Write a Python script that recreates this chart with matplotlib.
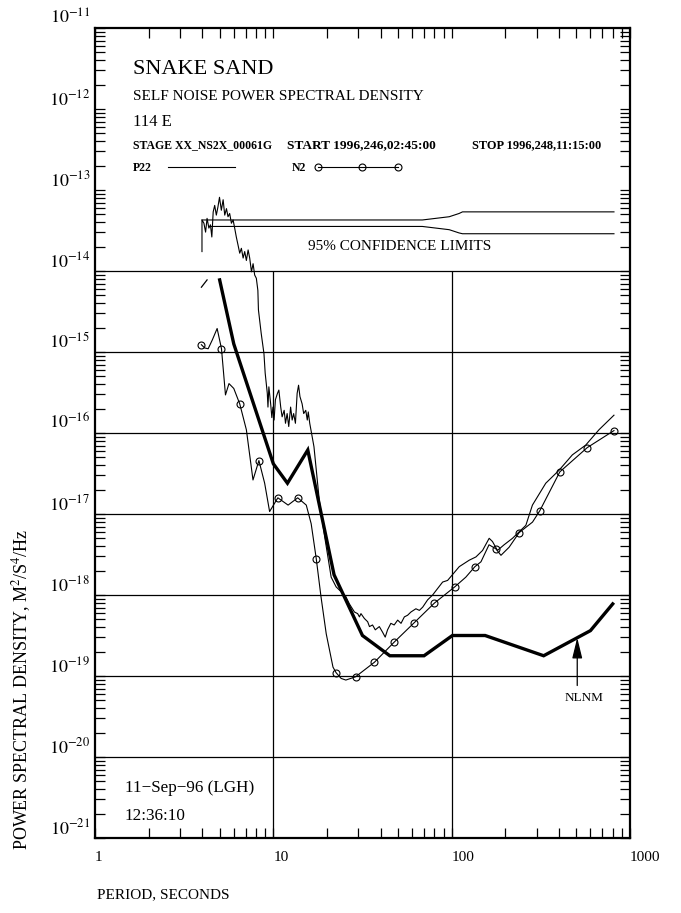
import numpy as np
import matplotlib
matplotlib.use("Agg")
import matplotlib.pyplot as plt
from matplotlib.lines import Line2D
from matplotlib.ticker import LogLocator, NullFormatter

plt.rcParams['font.family'] = ['Liberation Serif', 'DejaVu Serif']
plt.rcParams['mathtext.fontset'] = 'stix'

# ---- data: period (s) and acceleration PSD in dB rel 1 (m/s^2)^2/Hz ----
p22_period = [3.98, 3.98, 4.08, 4.17, 4.25, 4.35, 4.44, 4.52, 4.60, 4.69,
              4.79, 4.89, 4.99, 5.11, 5.23, 5.34, 5.46, 5.57, 5.69, 5.82,
              5.95, 6.07, 6.20, 6.34, 6.48, 6.62, 6.77, 6.91, 7.06, 7.22,
              7.37, 7.54, 7.70, 7.86, 8.03, 8.19, 8.25, 8.55, 8.86, 9.00,
              9.25, 9.33, 9.44, 9.66, 9.81, 9.95, 10.1, 10.27, 10.55, 10.74,
              11.0, 11.2, 11.5, 11.7, 11.95, 12.2, 12.5, 12.75, 13.0, 13.3,
              13.6, 13.85, 14.1, 14.5, 14.8, 15.2, 15.5, 15.7, 16.0, 16.4,
              16.9, 17.2, 18.1, 19.4, 21.1, 22.5, 24.0, 25.5, 26.7, 28.5,
              29.7, 30.4, 31.0, 32.4, 33.8, 34.6, 36.0, 37.3, 39.3, 41.0,
              42.4, 43.7, 45.6, 47.6, 49.8, 52.0, 54.3, 56.6, 59.1, 63.0,
              65.9, 68.8, 73.3, 78.2, 83.4, 89.0, 94.9, 110.3, 125.5, 136.8,
              149.0, 162.3, 169.4, 180.6, 196.8, 219.3, 239.0, 260.6, 283.7, 337.0,
              400.0, 475.0, 564.0, 670.0, 813.0]
p22_db = [-137.6, -133.7, -134.1, -135.2, -133.5, -134.7, -134.3, -135.8, -132.7, -131.9,
          -133.1, -132.1, -130.9, -132.5, -131.2, -133.1, -132.3, -133.3, -132.9, -134.1,
          -133.7, -134.7, -135.8, -136.8, -137.8, -137.2, -138.4, -137.6, -138.7, -137.4,
          -138.4, -140.1, -139.1, -140.5, -140.9, -142.4, -144.8, -147.7, -150.2, -152.6,
          -155.1, -156.8, -154.3, -156.4, -158.1, -156.8, -158.4, -155.9, -155.1, -154.7,
          -156.8, -158.0, -157.2, -158.8, -157.6, -159.2, -156.8, -158.4, -157.6, -158.8,
          -155.1, -154.1, -155.5, -156.4, -157.6, -157.2, -158.4, -157.4, -158.8, -160.1,
          -161.7, -163.4, -168.3, -172.8, -177.8, -179.0, -179.6, -180.2, -181.1, -182.1,
          -182.3, -182.7, -182.3, -182.9, -183.3, -183.9, -183.7, -184.3, -183.9, -184.6,
          -185.2, -184.3, -183.5, -183.7, -183.1, -183.5, -182.7, -182.5, -182.1, -181.7,
          -181.9, -181.5, -180.6, -180.0, -179.2, -178.4, -178.2, -176.5, -175.7, -175.3,
          -174.5, -173.0, -173.4, -174.5, -173.8, -173.0, -172.2, -171.4, -168.9, -166.2,
          -164.6, -162.7, -161.5, -159.6, -157.8]

n2_period = [3.95, 4.12, 4.31, 4.55, 4.84, 5.12, 5.39, 5.64, 6.0, 6.48,
             7.06, 7.69, 8.30, 8.94, 9.53, 10.6, 12.1, 13.7, 15.3, 16.3,
             17.4, 18.5, 19.8, 21.6, 22.5, 24.0, 25.5, 28.9, 36.9, 47.7,
             61.8, 80.0, 104.0, 120.0, 135.0, 146.0, 162.0, 177.0, 189.0, 210.0,
             239.0, 284.0, 312.0, 404.0, 576.0, 813.0]
n2_db = [-149.1, -149.5, -149.6, -148.5, -147.1, -149.6, -155.3, -153.9, -154.5, -156.4,
         -159.6, -165.8, -163.4, -166.2, -169.7, -168.0, -168.9, -168.0, -168.9, -171.2,
         -175.5, -180.2, -184.8, -188.9, -189.6, -190.3, -190.5, -190.1, -188.3, -185.8,
         -183.4, -181.0, -179.0, -177.8, -176.5, -175.9, -173.8, -174.3, -175.1, -174.1,
         -172.3, -171.0, -169.6, -164.8, -161.8, -159.7]
# samples of N2 that carry a symbol
n2_marks = [0, 5, 9, 12, 15, 17, 20, 24, 27, 28, 29, 30, 31, 32, 34, 37, 40, 42, 43, 44, 45]

# Peterson New Low Noise Model breakpoints
nlnm_period = [5.0, 6.0, 10.0, 12.0, 15.6, 21.9, 31.6, 45.0, 70.0, 101.0, 154.0, 328.0, 600.0, 800.0]
nlnm_db = [-141.1, -149.0, -163.8, -166.2, -162.1, -177.5, -185.0, -187.5, -187.5,
           -185.0, -185.0, -187.5, -184.4, -181.1]
nlnm_stub_period = [3.95, 4.25]
nlnm_stub_db = [-142.0, -141.1]

# 95% confidence limit curves
conf_up_period = [3.98, 68.5, 96.9, 110.0, 115.0, 813.0]
conf_up_db = [-133.7, -133.7, -133.3, -132.9, -132.7, -132.7]
conf_lo_period = [4.45, 68.5, 96.9, 110.0, 115.0, 813.0]
conf_lo_db = [-134.5, -134.5, -134.9, -135.3, -135.4, -135.4]

nlnm_arrow_period = 506.0

x_ticks = [1, 10, 100, 1000]
x_tick_labels = ['1', '10', '100', '1000']
y_exponents = list(range(-21, -10))
grid_exponents = list(range(-20, -13))
grid_periods = [10, 100]


def psd(db):
    return 10.0 ** (np.asarray(db, dtype=float) / 10.0)


W, H = 681, 913
fig = plt.figure(figsize=(W / 100, H / 100), dpi=100)
fig.patch.set_facecolor('white')
ax = fig.add_axes([95 / W, 1 - 838 / H, (630 - 95) / W, (838 - 28) / H])
ax.set_xscale('log')
ax.set_yscale('log')
ax.set_xlim(1, 1000)
ax.set_ylim(1e-21, 1e-11)

for s in ax.spines.values():
    s.set_linewidth(1.6)

ax.set_xticks(x_ticks)
ax.set_xticklabels(x_tick_labels)
ax.set_yticks([10.0 ** e for e in y_exponents])
ax.set_yticklabels(['$10^{%d}$' % e for e in y_exponents])
ax.xaxis.set_minor_locator(LogLocator(base=10, subs=range(2, 10), numticks=100))
ax.yaxis.set_minor_locator(LogLocator(base=10, subs=range(2, 10), numticks=100))
ax.xaxis.set_minor_formatter(NullFormatter())
ax.yaxis.set_minor_formatter(NullFormatter())
ax.tick_params(which='both', direction='in', top=True, right=True,
               length=7, width=0.9, color='k')
ax.tick_params(axis='x', which='major', labelsize=11, pad=9)
ax.tick_params(axis='y', which='major', labelsize=13, pad=3.5)
for lab in ax.get_xticklabels():
    lab.set_horizontalalignment('left')
for lab in ax.get_yticklabels():
    lab.set_verticalalignment('bottom')

# decade grid below the header block
for e in grid_exponents:
    ax.axhline(10.0 ** e, color='k', lw=0.9, zorder=1)
for p in grid_periods:
    ax.vlines(p, 1e-21, 1e-14, color='k', lw=0.9, zorder=1)

# curves
ax.plot(conf_up_period, psd(conf_up_db), color='k', lw=0.8)
ax.plot(conf_lo_period, psd(conf_lo_db), color='k', lw=0.8)
ax.plot(p22_period, psd(p22_db), color='k', lw=0.8)
ax.plot(n2_period, psd(n2_db), color='k', lw=0.8, marker='o', markevery=n2_marks,
        ms=5, mfc='none', mec='k', mew=0.8)
ax.plot(nlnm_period, psd(nlnm_db), color='k', lw=2.4, solid_joinstyle='miter')
ax.plot(nlnm_stub_period, psd(nlnm_stub_db), color='k', lw=0.9)

# NLNM pointer
lp, ld = np.log10(nlnm_period), np.asarray(nlnm_db)
tip_db = np.interp(np.log10(nlnm_arrow_period), lp, ld)
ax.annotate('', xy=(nlnm_arrow_period, psd(tip_db)),
            xytext=(nlnm_arrow_period, psd(tip_db - 5.9)),
            arrowprops=dict(arrowstyle='-|>,head_length=0.9,head_width=0.22',
                            color='k', lw=0.9, mutation_scale=14,
                            shrinkA=0, shrinkB=0))


def ftext(x, y, s, **kw):
    kw.setdefault('va', 'center')
    kw.setdefault('ha', 'left')
    fig.text(x / W, 1 - y / H, s, color='k', **kw)


ftext(133, 70, 'SNAKE SAND', fontsize=16)
ftext(133, 96, 'SELF NOISE POWER SPECTRAL DENSITY', fontsize=11)
ftext(133, 122, '114 E', fontsize=12)
ftext(133, 145, 'STAGE XX_NS2X_00061G', fontsize=8.5, fontweight='bold')
ftext(287, 145, 'START 1996,246,02:45:00', fontsize=9.6, fontweight='bold')
ftext(472, 145, 'STOP 1996,248,11:15:00', fontsize=8.9, fontweight='bold')
ftext(133, 168, 'P22', fontsize=8.5, fontweight='bold')
ftext(292, 168, 'N2', fontsize=8.5, fontweight='bold')
fig.add_artist(Line2D([168 / W, 235 / W], [1 - 167 / H] * 2, color='k', lw=0.8))
fig.add_artist(Line2D([318 / W, 362 / W, 398 / W], [1 - 167 / H] * 3, color='k', lw=0.8,
                      marker='o', ms=5, mfc='none', mec='k', mew=0.8))
ftext(308, 247, '95% CONFIDENCE LIMITS', fontsize=11)
ftext(565, 698, 'NLNM', fontsize=9.5)
ftext(125, 788, '11\u2212Sep\u221296 (LGH)', fontsize=12.3)
ftext(125, 816, '12:36:10', fontsize=12.3)
ftext(97, 895, 'PERIOD, SECONDS', fontsize=11)
fig.text(22 / W, 1 - 850 / H, 'POWER SPECTRAL DENSITY, M$^2$/S$^4$/Hz', fontsize=13,
         rotation=90, ha='center', va='bottom')

fig.savefig('out.png', dpi=100, facecolor='white')
